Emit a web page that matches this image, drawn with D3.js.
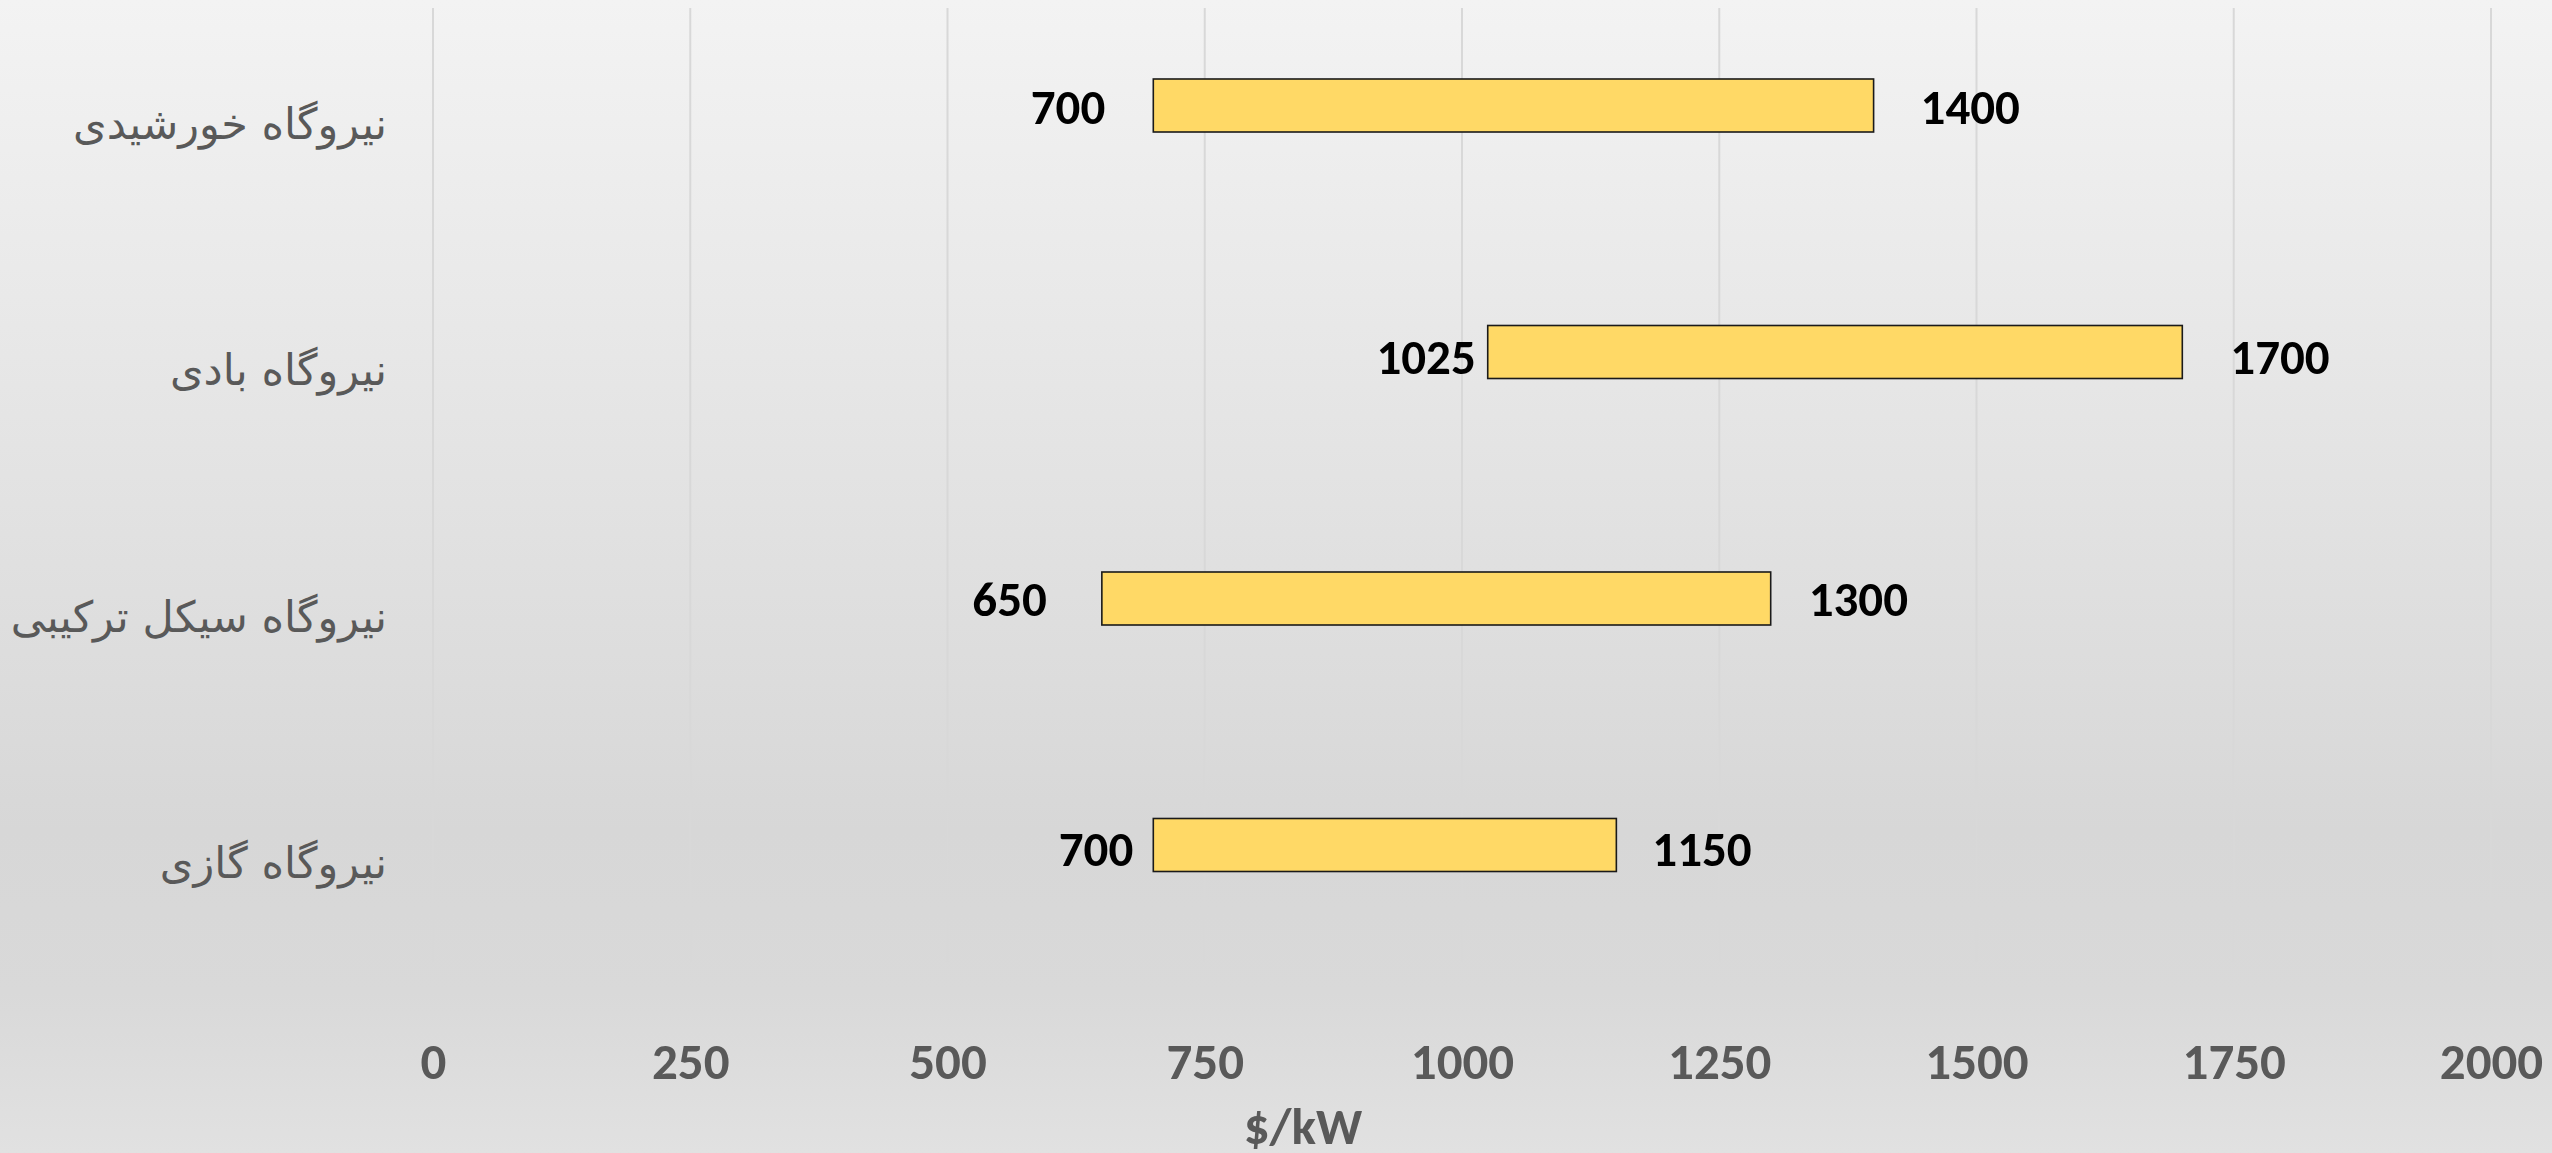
<!DOCTYPE html>
<html>
<head>
<meta charset="utf-8">
<script src="https://cdn.jsdelivr.net/npm/d3@7/dist/d3.min.js"></script>
<style>
  html, body { margin: 0; padding: 0; overflow: hidden; background: #e6e6e6; }
  svg { display: block; }
</style>
</head>
<body>
<svg id="chart" width="2552" height="1153"></svg>
<script>
// ---- data ----
const categories = ["نیروگاه خورشیدی", "نیروگاه بادی", "نیروگاه سیکل ترکیبی", "نیروگاه گازی"];
const minCost = [700, 1025, 650, 700];
const maxCost = [1400, 1700, 1300, 1150];
const xTickValues = [0, 250, 500, 750, 1000, 1250, 1500, 1750, 2000];
const axisTitle = "$/kW";

// ---- layout / style ----
const W = 2552, H = 1153;
const numFont = "Carlito, 'Liberation Sans Narrow', 'Arial Narrow', sans-serif";
const arFont = "'DejaVu Sans', sans-serif";
const leftGap = [48, 12, 55, 20];
const rightGap = [47, 48, 38, 36];
const labelDy = [2, 6, 1, 5];

const svg = d3.select("#chart");

const defs = svg.append("defs");
const grad = defs.append("linearGradient").attr("id", "bg")
  .attr("x1", 0).attr("y1", 0).attr("x2", 0).attr("y2", 1);
[[0, "#f3f3f3"], [0.72, "#d7d7d7"], [0.86, "#d9d9d9"], [1, "#e1e1e1"]]
  .forEach(([o, c]) => grad.append("stop").attr("offset", o).attr("stop-color", c));

svg.append("rect").attr("width", W).attr("height", H).attr("fill", "url(#bg)");

const x = d3.scaleLinear().domain([0, 2000]).range([433, 2491]);
const y = d3.scaleBand().domain(categories).range([-17.75, 968.25]).padding(0);
const barH = 53;
const cy = d => y(d) + y.bandwidth() / 2;

// gridlines
svg.append("g").selectAll("line").data(xTickValues).join("line")
  .attr("x1", d => x(d)).attr("x2", d => x(d))
  .attr("y1", 8).attr("y2", 962)
  .attr("stroke", "#d8d8d8").attr("stroke-width", 2);

// x axis tick labels
const xAxis = d3.axisBottom(x).tickValues(xTickValues).tickSize(0).tickPadding(0).tickFormat(d3.format("d"));
const gx = svg.append("g").attr("transform", "translate(0,1079)").call(xAxis);
gx.select(".domain").remove();
gx.selectAll("text")
  .attr("y", 0).attr("dy", 0)
  .attr("fill", "#595959")
  .style("font-family", numFont).style("font-weight", "bold").style("font-size", "51px");

// axis title
svg.append("text").attr("x", 1303).attr("y", 1144)
  .attr("text-anchor", "middle")
  .attr("fill", "#595959")
  .style("font-family", numFont).style("font-weight", "bold").style("font-size", "51px")
  .text(axisTitle);

// category labels
svg.append("g").selectAll("text").data(categories).join("text")
  .attr("x", 387).attr("y", d => cy(d) + 33)
  .attr("text-anchor", "end")
  .attr("fill", "#595959")
  .style("font-family", arFont).style("font-size", "43px")
  .text(d => d);

// bars
const rows = categories.map((c, i) => ({ c, i, lo: minCost[i], hi: maxCost[i] }));
svg.append("g").selectAll("rect").data(rows).join("rect")
  .attr("x", d => x(d.lo)).attr("width", d => x(d.hi) - x(d.lo))
  .attr("y", d => cy(d.c) - barH / 2).attr("height", barH)
  .attr("fill", "#ffd966").attr("stroke", "#1a1a1a").attr("stroke-width", 1.6);

// data labels
const lab = svg.append("g")
  .style("font-family", numFont).style("font-weight", "bold").style("font-size", "49px")
  .attr("fill", "#000");
lab.selectAll("text.lo").data(rows).join("text").attr("class", "lo")
  .attr("x", d => x(d.lo) - leftGap[d.i]).attr("y", d => cy(d.c) + 16 + labelDy[d.i])
  .attr("text-anchor", "end").text(d => d.lo);
lab.selectAll("text.hi").data(rows).join("text").attr("class", "hi")
  .attr("x", d => x(d.hi) + rightGap[d.i]).attr("y", d => cy(d.c) + 16 + labelDy[d.i])
  .attr("text-anchor", "start").text(d => d.hi);
</script>
</body>
</html>
